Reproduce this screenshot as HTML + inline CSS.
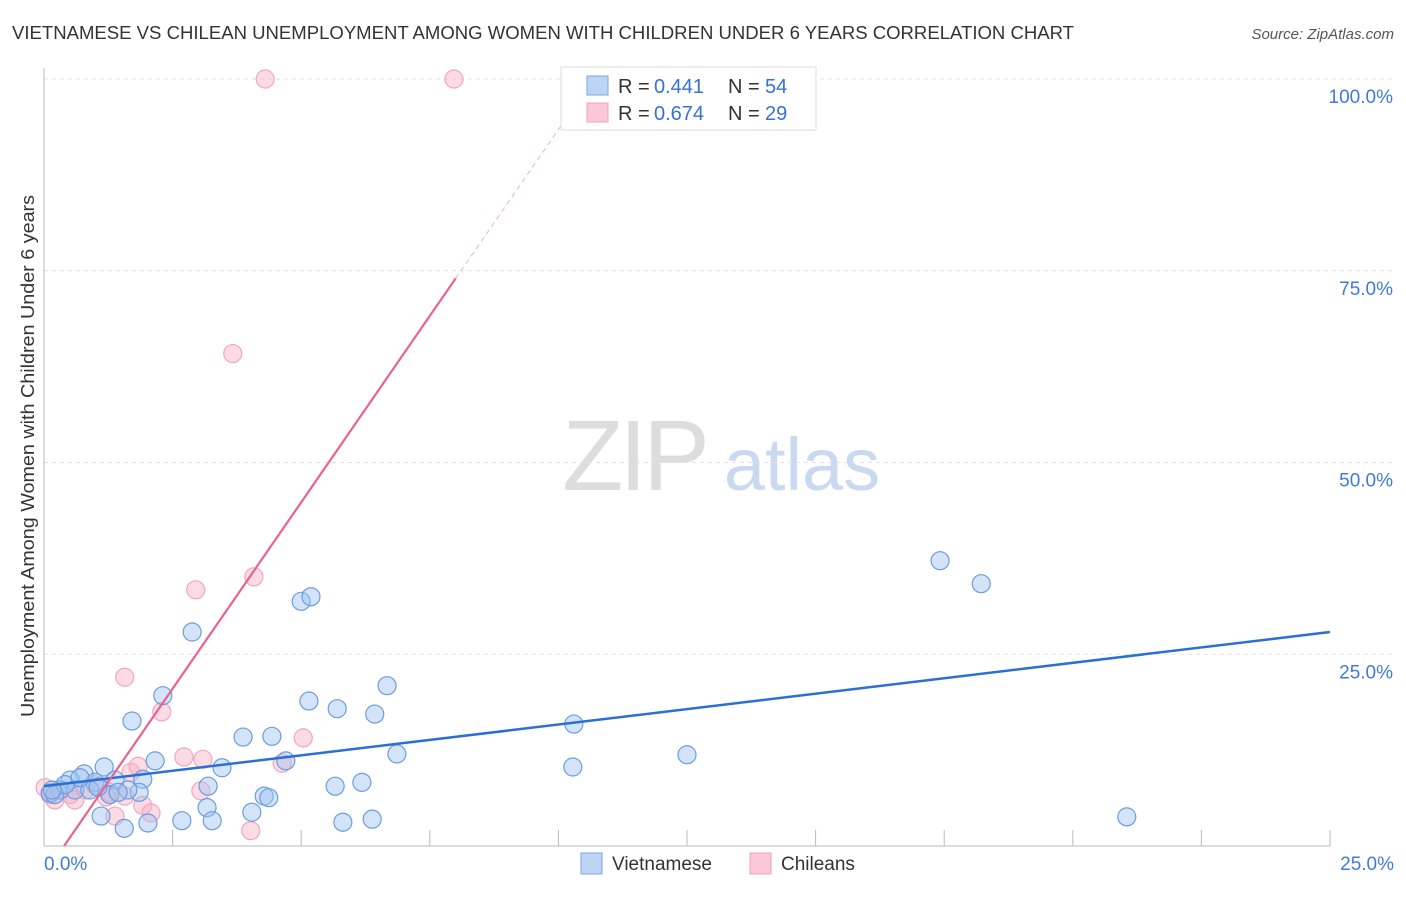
<!DOCTYPE html>
<html><head><meta charset="utf-8"><style>
body{margin:0;background:#fff;font-family:"Liberation Sans",sans-serif;}
svg text{font-family:"Liberation Sans",sans-serif;}
</style></head><body>
<svg id="c" width="1406" height="892">
<text x="12" y="39" font-size="18" fill="#333" textLength="1062" lengthAdjust="spacingAndGlyphs">VIETNAMESE VS CHILEAN UNEMPLOYMENT AMONG WOMEN WITH CHILDREN UNDER 6 YEARS CORRELATION CHART</text>
<text x="1394" y="39" font-size="15" fill="#555" font-style="italic" text-anchor="end">Source: ZipAtlas.com</text>
<text transform="translate(34,717) rotate(-90)" font-size="18.5" fill="#333" textLength="522" lengthAdjust="spacingAndGlyphs">Unemployment Among Women with Children Under 6 years</text>
<g>
<text x="634" y="490" font-size="100" fill="#ddd" font-family="Liberation Serif" text-anchor="middle" letter-spacing="-4">ZIP</text>
<text x="802" y="490" font-size="74" fill="#c9d9f0" text-anchor="middle">atlas</text>
</g>
<g id="grid"></g><g id="marks"></g>
<g>
<rect x="561" y="67" width="255" height="63" fill="#fff" stroke="#ddd"/>
<rect x="587" y="76" width="21" height="19" fill="#bcd5f5" stroke="#7aa6e0"/>
<text x="618" y="93" font-size="20" fill="#333">R = </text><text x="654" y="93" font-size="20" fill="#3572d3">0.441</text>
<text x="728" y="93" font-size="20" fill="#333">N = </text><text x="765" y="93" font-size="20" fill="#3572d3">54</text>
<rect x="587" y="103" width="21" height="19" fill="#fcc8d8" stroke="#f0a0b8"/>
<text x="618" y="120" font-size="20" fill="#333">R = </text><text x="654" y="120" font-size="20" fill="#3572d3">0.674</text>
<text x="728" y="120" font-size="20" fill="#333">N = </text><text x="765" y="120" font-size="20" fill="#3572d3">29</text>
</g>
<g>
<rect x="581" y="853" width="21" height="21" fill="#bcd5f5" stroke="#7aa6e0"/>
<text x="612" y="870" font-size="19" fill="#333">Vietnamese</text>
<rect x="750" y="853" width="21" height="21" fill="#fcc8d8" stroke="#f0a0b8"/>
<text x="781" y="870" font-size="19" fill="#333">Chileans</text>
</g>
</svg>
<script>
const yTicks=[25,50,75,100];
const xTickLabels=["0.0%","25.0%"];
const viX=[2.31,2.88,1.71,5.0,5.19,5.15,5.70,6.43,6.67,3.87,4.43,2.16,3.46,4.70,6.86,3.19,1.17,0.78,1.38,1.92,1.85,4.28,4.37,5.66,6.18,3.17,3.27,4.04,2.68,2.02,1.56,1.11,5.81,6.38,10.30,10.28,12.50,17.42,18.22,21.05,0.51,0.99,0.31,0.12,0.21,0.60,0.41,1.28,1.63,0.89,0.70,1.05,1.44,0.16];
const viY=[19.6,27.9,16.3,31.9,32.5,18.9,17.9,17.2,20.9,14.2,14.3,11.1,10.2,11.1,12.0,7.8,10.3,9.4,8.6,8.7,7.0,6.5,6.3,7.8,8.3,5.0,3.3,4.4,3.3,3.0,2.3,3.9,3.1,3.5,15.9,10.3,11.9,37.2,34.2,3.8,8.6,8.3,7.3,6.9,6.7,7.3,8.0,6.7,7.3,7.3,8.9,7.7,7.0,7.3];
const chX=[4.30,7.97,3.67,4.08,2.95,1.57,2.29,2.72,3.09,4.63,5.04,3.05,1.92,2.08,4.02,1.69,1.83,1.38,1.21,0.31,0.02,0.12,0.51,0.80,0.99,0.60,0.21,1.28,1.57];
const chY=[100,100,64.2,35.1,33.4,22.0,17.5,11.6,11.3,10.8,14.1,7.2,5.3,4.3,2.0,9.6,10.4,3.9,6.4,7.3,7.6,6.7,6.7,7.3,8.0,6.0,6.0,7.0,6.5];
const viLine=[7.8,27.9];
const chLine=[-3.79,9.72];
const NS="http://www.w3.org/2000/svg";
const sx=v=>44+v/25*1286, sy=v=>846-v/100*767;
function mk(t,a,p){const e=document.createElementNS(NS,t);for(const k in a)e.setAttribute(k,a[k]);p.appendChild(e);return e;}
const g=document.getElementById('grid'), m=document.getElementById('marks');
yTicks.forEach(t=>{
 const l=mk('line',{x1:44,x2:1394,y1:sy(t),y2:sy(t),stroke:'#e2e2e2','stroke-dasharray':'4,4'},g);
 
 
 const tx=mk('text',{x:1393,y:sy(t)+24,'font-size':19,fill:'#3f7bd8','text-anchor':'end'},g);
 tx.textContent=t.toFixed(1)+'%';
 
 
});
mk('line',{x1:44,x2:44,y1:68,y2:846,stroke:'#bbb'},g);
mk('line',{x1:44,x2:1330,y1:846,y2:846,stroke:'#bbb'},g);
for(let i=1;i<=10;i++){const x=sx(i*2.5);const t=mk('line',{x1:x,x2:x,y1:830,y2:846,stroke:'#bbb'},g);
 
 }
xTickLabels.forEach((s,i)=>{const tx=mk('text',{x:i?1394:44,y:870,'font-size':19,fill:'#3f7bd8','text-anchor':i?'end':'start'},g);tx.textContent=s;
 
 });
chX.forEach((x,i)=>{const c=mk('circle',{cx:sx(x),cy:sy(chY[i]),r:9,fill:'rgba(248,175,198,0.45)',stroke:'#f2a6bd','stroke-width':1.2},m);
 
 });
viX.forEach((x,i)=>{const c=mk('circle',{cx:sx(x),cy:sy(viY[i]),r:9,fill:'rgba(160,195,240,0.45)',stroke:'#6a9de0','stroke-width':1.2},m);
 
 });
const bl=mk('line',{x1:sx(0),y1:sy(viLine[0]),x2:sx(25),y2:sy(viLine[1]),stroke:'#2a6fd6','stroke-width':2.5},m);


const x0=-chLine[0]/chLine[1], x1=(74-chLine[0])/chLine[1], x2=(96-chLine[0])/chLine[1];
const pl=mk('line',{x1:sx(x0),y1:sy(0),x2:sx(x1),y2:sy(74),stroke:'#e8638f','stroke-width':2.2},m);


const pd=mk('line',{x1:sx(x1),y1:sy(74),x2:sx(x2),y2:sy(96),stroke:'#eeb0c4','stroke-width':1,'stroke-dasharray':'5,4'},m);


</script>
</body></html>
